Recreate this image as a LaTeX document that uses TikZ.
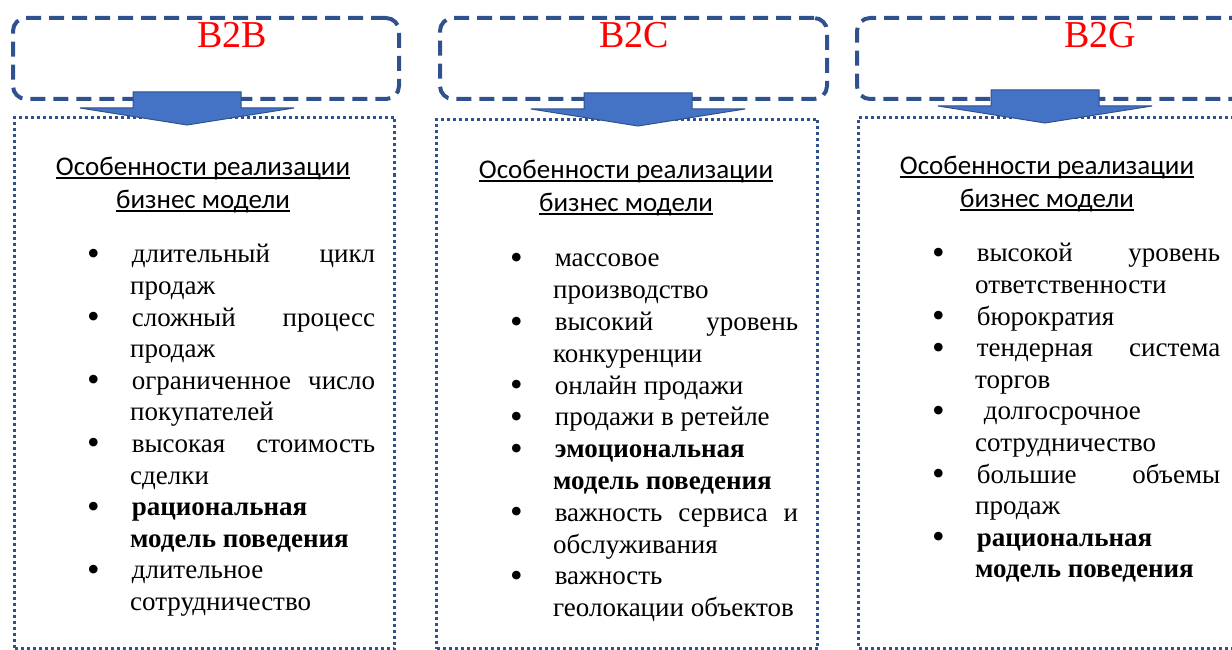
\documentclass[tikz,border=0pt]{standalone}
\usepackage{fontspec}
\setmainfont{Liberation Serif}
\newfontfamily\calibri{Carlito}
\usetikzlibrary{calc}
\definecolor{frameblue}{RGB}{47,82,143}
\definecolor{arrowblue}{RGB}{68,114,196}
\definecolor{labelred}{RGB}{255,0,0}

% underline at a fixed depth, as in the source document
\newcommand{\hdul}[1]{\setbox0\hbox{#1}\rlap{\rule[-3.5pt]{\wd0}{1.8pt}}\box0}
\newcommand{\bigbullet}{\raisebox{-2.5pt}{\fontsize{36}{36}\selectfont\textbullet}}
\newenvironment{featlist}{\begin{list}{\bigbullet}{%
  \setlength\leftmargin{43pt}\setlength\labelwidth{11pt}\setlength\labelsep{32pt}%
  \setlength\itemsep{0pt}\setlength\parsep{0pt}\setlength\topsep{0pt}%
  \setlength\partopsep{0pt}\setlength\itemindent{0pt}}%
  \hyphenpenalty=10000\relax}{\end{list}}

\begin{document}
\begin{tikzpicture}[
  x=1pt, y=-1pt,
  hdrbox/.style  = {draw=frameblue, line width=4pt, dash pattern=on 15pt off 8pt,
                    rounded corners=13pt, minimum height=81pt, anchor=north west,
                    inner sep=0pt},
  bodybox/.style = {draw=frameblue, line width=3pt, dash pattern=on 3pt off 3pt,
                    minimum height=531pt, anchor=north west, inner sep=0pt},
  tag/.style     = {font=\fontsize{38}{40}\selectfont, text=labelred,
                    anchor=base, inner sep=0pt},
  ttl/.style     = {font=\calibri\fontsize{27}{33}\selectfont, align=center,
                    anchor=north, inner sep=0pt},
  feats/.style   = {font=\fontsize{27}{31.6}\selectfont, text width=288pt,
                    align=justify, anchor=north west, inner sep=0pt},
  blockarrow/.pic = {
    \draw[fill=arrowblue, draw=frameblue, line width=1pt]
      (-54,0) -- (54,0) -- (54,16) -- (107,16) -- (0,33) -- (-107,16)
      -- (-54,16) -- cycle;
  },
]
  \useasboundingbox (0,0) rectangle (1232,650);

  % header frames
  \node[hdrbox, minimum width=386pt] (hdrB2B) at (11,16)  {};
  \node[hdrbox, minimum width=387pt] (hdrB2C) at (438,16) {};
  \node[hdrbox, minimum width=400pt] (hdrB2G) at (855,16) {};
  \node[tag] (tagB2B) at (232,48)  {B2B};
  \node[tag] (tagB2C) at (634,48)  {B2C};
  \node[tag] (tagB2G) at (1100,48) {B2G};

  % body frames
  \node[bodybox, minimum width=380pt] (bodyB2B) at (13,116) {};
  \node[bodybox, minimum width=381pt, minimum height=529pt] (bodyB2C) at (435,118) {};
  \node[bodybox, minimum width=390pt] (bodyB2G) at (857,116) {};

  % arrows from header to body
  \pic at (187,92)  {blockarrow};
  \pic at (638,93)  {blockarrow};
  \pic at (1045,90) {blockarrow};

  % body texts
  \node[ttl] (ttlB2B) at (203,152)
    {\strut\hdul{Особенности реализации}\\\hdul{бизнес модели}};
  \node[ttl] (ttlB2C) at (626,155)
    {\strut\hdul{Особенности реализации}\\\hdul{бизнес модели}};
  \node[ttl] (ttlB2G) at (1047,151)
    {\strut\hdul{Особенности реализации}\\\hdul{бизнес модели}};

  \node[feats] (featB2B) at (87,231) {\begin{featlist}
    \item \strut длительный цикл \linebreak продаж
    \item сложный процесс \linebreak продаж
    \item ограниченное число \linebreak покупателей
    \item высокая стоимость \linebreak сделки
    \item \textbf{рациональная \linebreak модель поведения}
    \item длительное \linebreak сотрудничество
  \end{featlist}};
  \node[feats, font=\fontsize{27}{31.8}\selectfont] (featB2C) at (510,235) {\begin{featlist}
    \item \strut массовое \linebreak производство
    \item высокий уровень \linebreak конкуренции
    \item онлайн продажи
    \item продажи в ретейле
    \item \textbf{эмоциональная \linebreak модель поведения}
    \item важность сервиса и \linebreak обслуживания
    \item важность \linebreak геолокации объектов
  \end{featlist}};
  \node[feats] (featB2G) at (932,230) {\begin{featlist}
    \item \strut высокой уровень \linebreak ответственности
    \item бюрократия
    \item тендерная система \linebreak торгов
    \item \hspace*{7pt}долгосрочное \linebreak сотрудничество
    \item большие объемы \linebreak продаж
    \item \textbf{рациональная \linebreak модель поведения}
  \end{featlist}};
\end{tikzpicture}
\end{document}
